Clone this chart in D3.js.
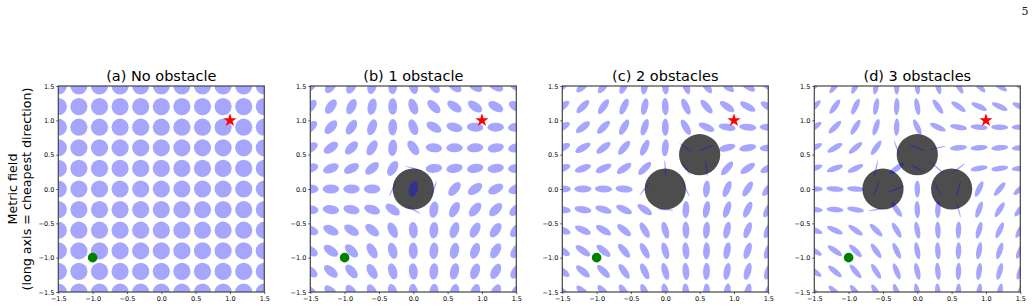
<!DOCTYPE html>
<html>
<head>
<meta charset="utf-8">
<script src="https://cdn.jsdelivr.net/npm/d3@7"></script>
<style>
body { margin: 0; background: white; }
svg { display: block; font-family: "DejaVu Sans", sans-serif; }
</style>
</head>
<body>
<script>
let w = 1036
let h = 308

// grid of metric samples and axis ticks
let gridValues = [-1.5, -1.2, -0.9, -0.6, -0.3, 0, 0.3, 0.6, 0.9, 1.2, 1.5]
let tickValues = [-1.5, -1.0, -0.5, 0.0, 0.5, 1.0, 1.5]
let titles = ["(a) No obstacle", "(b) 1 obstacle", "(c) 2 obstacles", "(d) 3 obstacles"]
let startPoint = [-1, -1]
let goalPoint = [1, 1]
let obstacleRadius = 0.3
let obstaclesA = []
let obstaclesB = [[0, 0]]
let obstaclesC = [[0, 0], [0.5, 0.5]]
let obstaclesD = [[-0.5, 0], [0, 0.5], [0.5, 0]]

// ellipse axis lengths (long, short) per panel
let axesA = [0.25, 0.25]
let axesB = [0.24, 0.13]
let axesC = [0.25, 0.10]
let axesD = [0.25, 0.08]
let axesThin = [0.24, 0.02]

// long axis angle in degrees, rows from y=1.5 down to y=-1.5
let anglesB = [
  [50, 55, 65, 75, 88, 105, 125, 140, 145, 150, 150],
  [48, 55, 65, 78, 90, 110, 135, 145, 145, 150, 150],
  [40, 48, 58, 70, 88, 110, 150, 165, 175, 180, 5],
  [30, 35, 45, 60, 85, 125, 175, 0, 5, 10, 10],
  [20, 22, 28, 40, 60, 165, 5, 10, 10, 8, 5],
  [0, 0, 0, 0, 65, 75, 70, 50, 35, 28, 22],
  [175, 172, 168, 162, 145, 150, 80, 62, 50, 45, 40],
  [160, 155, 148, 140, 115, 95, 85, 72, 62, 55, 50],
  [150, 145, 135, 120, 105, 92, 85, 78, 70, 60, 55],
  [145, 140, 130, 120, 105, 95, 85, 78, 70, 62, 55],
  [140, 135, 125, 115, 105, 95, 85, 78, 72, 65, 60]
]
let anglesC = [
  [40, 45, 55, 65, 80, 95, 110, 125, 140, 145, 150],
  [38, 45, 55, 65, 78, 92, 115, 130, 145, 150, 150],
  [30, 38, 45, 60, 72, 90, 120, 155, 170, 175, 178],
  [25, 30, 38, 50, 65, 85, 145, 20, 15, 10, 5],
  [20, 20, 25, 35, 45, 95, 125, 95, 50, 35, 25],
  [0, 180, 178, 175, 50, null, 115, 85, 68, 58, 50],
  [172, 170, 162, 155, 145, 175, 88, 80, 72, 65, 60],
  [160, 155, 150, 140, 120, 105, 92, 85, 78, 70, 65],
  [150, 145, 140, 130, 118, 105, 95, 88, 80, 72, 68],
  [145, 140, 135, 125, 115, 105, 95, 88, 80, 75, 70],
  [140, 135, 130, 122, 112, 102, 95, 88, 82, 76, 72]
]
let anglesD = [
  [45, 55, 65, 80, 90, 95, 105, 120, 135, 145, 150],
  [45, 55, 65, 80, 88, 100, 125, 145, 155, 155, 155],
  [35, 45, 58, 72, 88, 115, 155, 170, 175, 178, 0],
  [28, 30, 40, 55, 110, 160, 12, 5, 5, 5, 5],
  [20, 20, 25, 78, 35, 150, 140, 37, 10, 8, 5],
  [0, 175, 175, 70, 20, 90, 115, 75, 65, 50, 40],
  [175, 175, 170, 10, 125, 92, 88, 105, 70, 58, 50],
  [160, 155, 145, 135, 120, 100, 92, 88, 75, 65, 60],
  [150, 145, 135, 125, 115, 100, 93, 88, 80, 72, 65],
  [145, 140, 130, 122, 112, 102, 95, 88, 82, 75, 70],
  [140, 135, 128, 120, 110, 102, 95, 88, 82, 78, 72]
]
// cells [row, col] where the metric is degenerate (thin line)
let thinB = [[4, 5], [5, 4], [5, 6], [6, 5]]
let thinC = [[3, 6], [3, 7], [4, 5], [4, 6], [4, 7], [5, 4], [5, 6], [6, 5]]
let thinD = [[3, 4], [3, 5], [3, 6], [4, 3], [4, 5], [4, 6], [4, 7], [5, 3], [5, 4], [5, 6], [5, 7], [6, 3], [6, 7]]

let panels = [
  {angles: null, axes: axesA, thin: [], obstacles: obstaclesA},
  {angles: anglesB, axes: axesB, thin: thinB, obstacles: obstaclesB},
  {angles: anglesC, axes: axesC, thin: thinC, obstacles: obstaclesC},
  {angles: anglesD, axes: axesD, thin: thinD, obstacles: obstaclesD}
]

let panelX = [58.3, 310.3, 562.3, 814.3]
let panelSize = 206
let panelTop = 86

let svg = d3.select("body").append("svg")
  .attr("width", w)
  .attr("height", h)

let starPath = (r)=>{
  let pts = []
  for (let k = 0; k < 10; k++) {
    let rr = k % 2 === 0 ? r : r * 0.382
    let a = -Math.PI / 2 + k * Math.PI / 5
    pts.push([rr * Math.cos(a), rr * Math.sin(a)])
  }
  return "M" + pts.map(p => p.join(",")).join("L") + "Z"
}

let drawPanel = (p, k)=>{
  let x0 = panelX[k]
  let x = d3.scaleLinear().domain([-1.5, 1.5]).range([x0, x0 + panelSize])
  let y = d3.scaleLinear().domain([-1.5, 1.5]).range([panelTop + panelSize, panelTop])
  let unit = panelSize / 3

  let g = svg.append("g")

  svg.append("clipPath").attr("id", "clip" + k)
    .append("rect")
    .attr("x", x0).attr("y", panelTop)
    .attr("width", panelSize).attr("height", panelSize)

  let plot = g.append("g").attr("clip-path", "url(#clip" + k + ")")

  plot.selectAll(".obstacle")
    .data(p.obstacles)
    .enter()
    .append("circle")
    .attr("class", "obstacle")
    .attr("cx", d => x(d[0]))
    .attr("cy", d => y(d[1]))
    .attr("r", obstacleRadius * unit)
    .attr("fill", "#4d4d4d")

  let cells = []
  gridValues.forEach((yv, r) => {
    gridValues.forEach((xv, c) => {
      let row = 10 - r
      let ang = p.angles ? p.angles[row][c] : 0
      if (ang === null) return
      let isThin = p.thin.some(t => t[0] === row && t[1] === c)
      let ax = isThin ? axesThin : p.axes
      cells.push({x: xv, y: gridValues[r], angle: ang, a: ax[0], b: ax[1]})
    })
  })

  plot.selectAll(".metric")
    .data(cells)
    .enter()
    .append("ellipse")
    .attr("class", "metric")
    .attr("cx", d => x(d.x))
    .attr("cy", d => y(d.y))
    .attr("rx", d => d.a * unit / 2)
    .attr("ry", d => d.b * unit / 2)
    .attr("transform", d => "rotate(" + (-d.angle) + "," + x(d.x) + "," + y(d.y) + ")")
    .attr("fill", "#0000ff")
    .attr("fill-opacity", 0.35)

  g.append("rect")
    .attr("x", x0).attr("y", panelTop)
    .attr("width", panelSize).attr("height", panelSize)
    .attr("fill", "none")
    .attr("stroke", "#444")
    .attr("stroke-width", 1.2)

  g.append("circle")
    .attr("cx", x(startPoint[0]))
    .attr("cy", y(startPoint[1]))
    .attr("r", 4.8)
    .attr("fill", "#008000")

  g.append("path")
    .attr("d", starPath(7))
    .attr("transform", "translate(" + x(goalPoint[0]) + "," + y(goalPoint[1]) + ")")
    .attr("fill", "#ff0000")

  let fmt = d3.format(".1f")
  let xAxis = g.append("g")
    .attr("transform", "translate(0," + (panelTop + panelSize) + ")")
    .call(d3.axisBottom(x).tickValues(tickValues).tickSize(2).tickPadding(2).tickFormat(fmt))
  let yAxis = g.append("g")
    .attr("transform", "translate(" + x0 + ",0)")
    .call(d3.axisLeft(y).tickValues(tickValues).tickSize(2).tickPadding(2).tickFormat(fmt))

  ;[xAxis, yAxis].forEach(a => {
    a.select(".domain").remove()
    a.selectAll("line").attr("stroke", "#333").attr("stroke-width", 0.8)
    a.selectAll("text")
      .attr("fill", "#000")
      .style("font-size", "6.5px")
      .style("font-family", "DejaVu Sans")
  })

  g.append("text")
    .text(titles[k])
    .attr("x", x0 + panelSize / 2)
    .attr("y", 81)
    .attr("text-anchor", "middle")
    .attr("fill", "#000")
    .style("font-size", "14.5px")
}

panels.forEach(drawPanel)

let midY = panelTop + panelSize / 2
svg.append("text")
  .text("Metric field")
  .attr("transform", "translate(17," + midY + ") rotate(-90)")
  .attr("text-anchor", "middle")
  .style("font-size", "12.7px")
svg.append("text")
  .text("(long axis = cheapest direction)")
  .attr("transform", "translate(31," + midY + ") rotate(-90)")
  .attr("text-anchor", "middle")
  .style("font-size", "12.7px")

svg.append("text")
  .text("5")
  .attr("x", 1025)
  .attr("y", 15)
  .attr("text-anchor", "middle")
  .attr("fill", "#222")
  .style("font-family", "DejaVu Serif")
  .style("font-size", "11px")
</script>
</body>
</html>
